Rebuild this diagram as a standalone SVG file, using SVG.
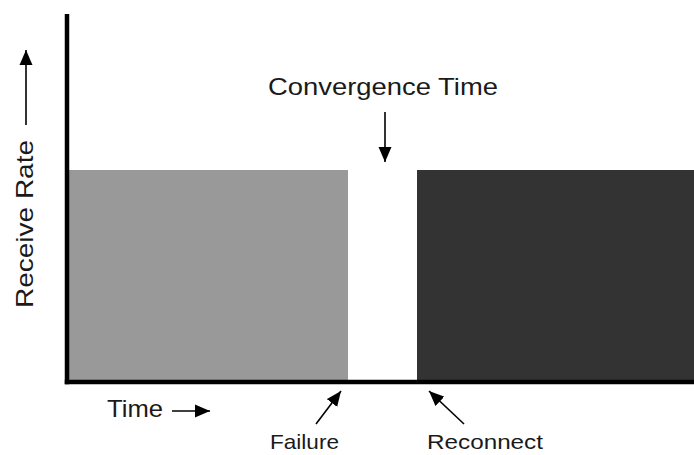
<svg xmlns="http://www.w3.org/2000/svg" width="694" height="455" viewBox="0 0 694 455">
  <style>
    .lbl { font-family: "Liberation Sans", Arial, Helvetica, sans-serif; font-size: 24px; fill: #1a1a1a; }
    .small { font-size: 21px; }
    .axis { stroke: #000; stroke-width: 4.5; fill: none; }
    .ptr { stroke: #000; stroke-width: 1.6; fill: none; marker-end: url(#head); }
  </style>
  <defs>
    <marker id="head" markerUnits="userSpaceOnUse" markerWidth="16" markerHeight="14" refX="15" refY="7" orient="auto">
      <path d="M0,0.5 L15,7 L0,13.5 z" fill="#000"/>
    </marker>
  </defs>
  <rect width="694" height="455" fill="#fff"/>

  <!-- rate before failure -->
  <g id="before">
    <rect x="69" y="170" width="279" height="210" fill="#999"/>
  </g>
  <!-- rate after reconnect -->
  <g id="after">
    <rect x="417" y="170" width="277" height="210" fill="#333"/>
  </g>

  <!-- axes -->
  <g id="axes">
    <line class="axis" x1="67" y1="14" x2="67" y2="384.25"/>
    <line class="axis" x1="64.75" y1="382" x2="694" y2="382"/>
  </g>

  <!-- labels -->
  <g id="y-label">
    <text class="lbl" transform="translate(33,224) rotate(-90)" text-anchor="middle" textLength="168" lengthAdjust="spacingAndGlyphs">Receive Rate</text>
  </g>
  <g id="x-label">
    <text class="lbl" x="107" y="417" textLength="56" lengthAdjust="spacingAndGlyphs">Time</text>
  </g>
  <g id="convergence">
    <text class="lbl" x="268" y="95" textLength="230" lengthAdjust="spacingAndGlyphs">Convergence Time</text>
  </g>
  <g id="failure">
    <text class="lbl small" x="270" y="449" textLength="69" lengthAdjust="spacingAndGlyphs">Failure</text>
  </g>
  <g id="reconnect">
    <text class="lbl small" x="427" y="449" textLength="116" lengthAdjust="spacingAndGlyphs">Reconnect</text>
  </g>

  <!-- connectors -->
  <g id="connectors">
    <line class="ptr" x1="26" y1="125" x2="26" y2="50"/>
    <line class="ptr" x1="172" y1="411" x2="210" y2="411"/>
    <line class="ptr" x1="385" y1="112" x2="385" y2="162"/>
    <line class="ptr" x1="316" y1="424" x2="341" y2="391"/>
    <line class="ptr" x1="464" y1="424" x2="429" y2="391"/>
  </g>
</svg>
